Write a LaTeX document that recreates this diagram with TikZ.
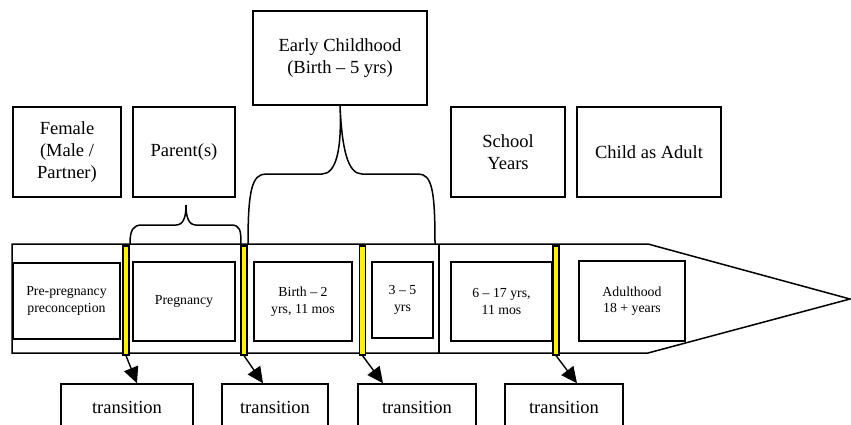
\documentclass[tikz,border=0pt]{standalone}
\usepackage{fontspec}
\setmainfont{Liberation Serif}
\usetikzlibrary{arrows.meta}

\begin{document}
\begin{tikzpicture}[x=1pt,y=-1pt,
    box/.style={draw,line width=1.5pt,align=center,inner sep=0pt,font=\fontsize{18.5}{22}\selectfont},
    agebox/.style={box,font=\fontsize{13.8}{16.5}\selectfont},
    bar/.style={draw,fill=yellow,line width=1.2pt,minimum width=6,minimum height=109,inner sep=0pt},
    trans/.style={box,minimum height=46},
    link/.style={-{Triangle[length=16pt,width=15pt]},line width=1.4pt}]
    \useasboundingbox(0,0)rectangle(851,424);
    \draw[line width=1.5pt](12,244)--(648,244)--(850,299)--(648,353)--(12,353)--cycle;
    \draw[line width=1.5pt](439,244)--(439,353);

    \node[box,minimum width=108,minimum height=90](female)at(67,152){Female\\(Male /\\Partner)};
    \node[box,minimum width=102,minimum height=90](parent)at(184,152){Parent(s)};
    \node[box,minimum width=174,minimum height=94](early)at(340,58){Early Childhood\\(Birth – 5 yrs)};
    \node[box,minimum width=114,minimum height=90](school)at(508,152){School\\Years};
    \node[box,minimum width=144,minimum height=90](grown)at(649,152){Child as Adult};

    \node[agebox,minimum width=107,minimum height=76](prepreg)at(66.5,301){Pre-pregnancy\\preconception};
    \node[agebox,minimum width=102,minimum height=79](preg)at(184,301.5){Pregnancy};
    \node[agebox,minimum width=98,minimum height=79](birth)at(303,301.5){Birth – 2\\yrs, 11 mos};
    \node[agebox,minimum width=61,minimum height=76](toddler)at(402.5,300){3 – 5\\yrs};
    \node[agebox,minimum width=101,minimum height=79](schoolage)at(501.5,301.5){6 – 17 yrs,\\11 mos};
    \node[agebox,minimum width=106,minimum height=80](adulthood)at(632,301){Adulthood\\18 + years};

    \node[bar](yb1)at(126,300.5){};
    \node[bar](yb2)at(244,300.5){};
    \node[bar](yb3)at(362.5,300.5){};
    \node[bar](yb4)at(556,300.5){};

    \node[trans,minimum width=132](tr1)at(127,407){transition};
    \node[trans,minimum width=106](tr2)at(275,407){transition};
    \node[trans,minimum width=118](tr3)at(417,407){transition};
    \node[trans,minimum width=118](tr4)at(564,407){transition};

    \draw[link](yb1.south)--([xshift=10pt]tr1.north);
    \draw[link](yb2.south)--([xshift=-12pt]tr2.north);
    \draw[link](yb3.south)--([xshift=-34pt]tr3.north);
    \draw[link](yb4.south)--([xshift=13pt]tr4.north);

    \draw[line width=1.5pt](130,244)..controls(130,230)and(133,225)..(142,225)--(176,225)
        ..controls(183,225)and(186,218)..(186,205)..controls(186,218)and(189,225)..(196,225)
        --(231,225)..controls(240,225)and(241,230)..(241,244);
    \draw[line width=1.5pt](248,244)..controls(248,190)and(252,174)..(266,174)--(322,174)
        ..controls(336,174)and(342,150)..(early.south)..controls(342,150)and(348,174)..(362,174)
        --(418,174)..controls(432,174)and(435,190)..(435,244);
\end{tikzpicture}
\end{document}
